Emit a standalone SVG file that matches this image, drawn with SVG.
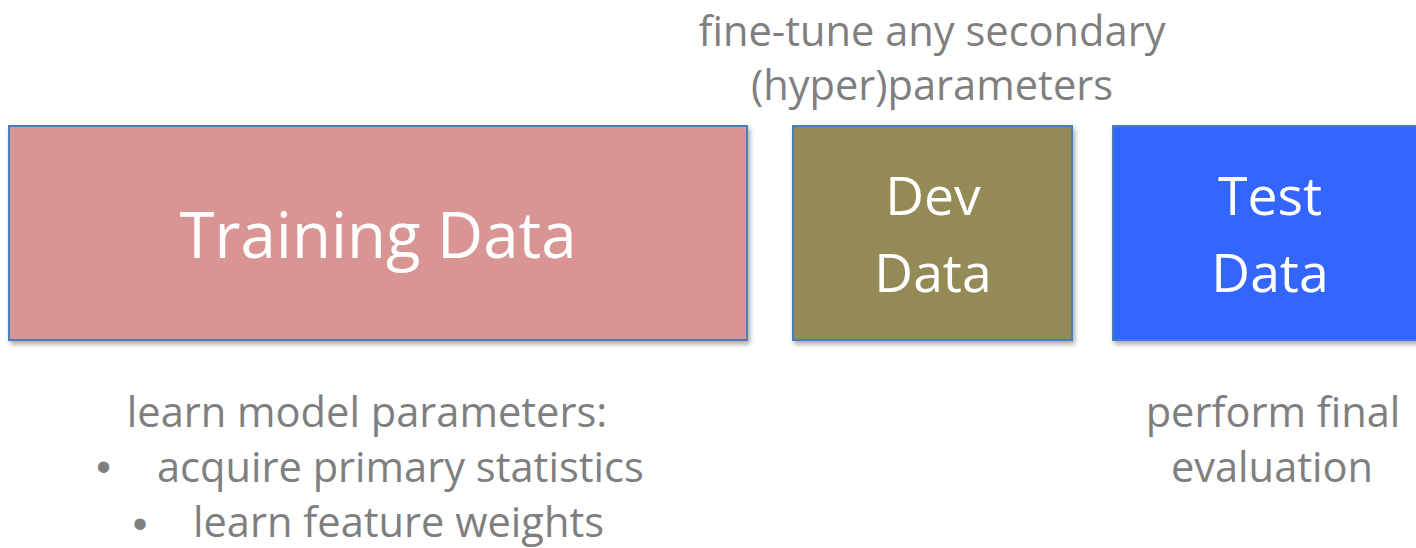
<svg xmlns="http://www.w3.org/2000/svg" width="1416" height="548" viewBox="0 0 1416 548">
<defs>
<filter id="sh" x="-5%" y="-5%" width="115%" height="120%">
<feDropShadow dx="2" dy="3" stdDeviation="2.5" flood-color="#000" flood-opacity="0.35"/>
</filter>
<style>
.box{stroke:#4a7ebb;stroke-width:2;filter:url(#sh)}
.big{font-family:"Open Sans","Liberation Sans",sans-serif;fill:#fff;text-anchor:middle}
.lbl{font-family:"Open Sans","Liberation Sans",sans-serif;fill:#7f7f7f;font-size:41.6px}
.bul{font-family:"Liberation Sans",Arial,sans-serif;fill:#7f7f7f;font-size:41.6px;text-anchor:middle}
.mid{text-anchor:middle}
</style>
</defs>
<rect width="1416" height="548" fill="#fff"/>
<g id="training">
<rect class="box" x="9" y="126" width="738" height="214" fill="#d99594"/>
<text class="big" x="378" y="258" font-size="63.6">Training Data</text>
</g>
<g id="dev">
<rect class="box" x="793" y="126" width="279" height="214" fill="#948a54"/>
<text class="big" x="933" y="215" font-size="53.5">Dev</text>
<text class="big" x="933" y="292" font-size="53.5">Data</text>
</g>
<g id="test">
<rect class="box" x="1113" y="126" width="314" height="214" fill="#3366ff"/>
<text class="big" x="1270" y="215" font-size="53.5">Test</text>
<text class="big" x="1270" y="292" font-size="53.5">Data</text>
</g>
<g id="dev-note">
<text class="lbl mid" x="932" y="46">fine-tune any secondary</text>
<text class="lbl mid" x="932" y="100">(hyper)parameters</text>
</g>
<g id="train-note">
<text class="lbl mid" x="367" y="427">learn model parameters:</text>
<text class="bul" x="103.5" y="481">•</text>
<text class="lbl" x="157" y="482">acquire primary statistics</text>
<text class="bul" x="140" y="538">•</text>
<text class="lbl" x="193" y="537">learn feature weights</text>
</g>
<g id="test-note">
<text class="lbl mid" x="1273" y="427">perform final</text>
<text class="lbl mid" x="1272" y="482">evaluation</text>
</g>
<g id="connectors"/>
</svg>
